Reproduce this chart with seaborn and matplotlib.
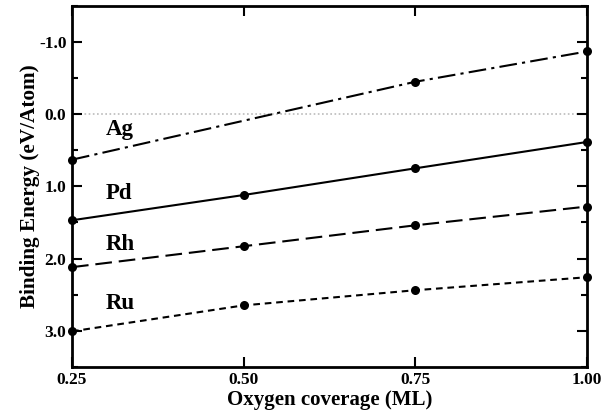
import numpy as np
import pandas as pd
import matplotlib
matplotlib.use("Agg")
import matplotlib.pyplot as plt
import seaborn as sns
from matplotlib.ticker import MultipleLocator

sns.set_style("ticks")
plt.rcParams['font.family'] = ['Liberation Serif', 'DejaVu Serif']
plt.rcParams['font.weight'] = 'bold'
for k in ["text.color", "axes.labelcolor", "xtick.color", "ytick.color", "axes.edgecolor"]:
    plt.rcParams[k] = "black"

# Data
metals = ["Ag", "Pd", "Rh", "Ru"]
ag_x = [0.25, 0.75, 1.00]
ag_y = [0.63, -0.45, -0.87]
pd_x = [0.25, 0.50, 0.75, 1.00]
pd_y = [1.47, 1.12, 0.75, 0.385]
rh_x = [0.25, 0.50, 0.75, 1.00]
rh_y = [2.12, 1.83, 1.54, 1.28]
ru_x = [0.25, 0.50, 0.75, 1.00]
ru_y = [3.01, 2.65, 2.44, 2.26]
x_ticks = [0.25, 0.50, 0.75, 1.00]
x_ticklabels = ["0.25", "0.50", "0.75", "1.00"]
y_ticks = [-1.0, 0.0, 1.0, 2.0, 3.0]
y_ticklabels = ["-1.0", "0.0", "1.0", "2.0", "3.0"]
label_y = [0.21, 1.10, 1.81, 2.62]

frames = []
for m, xs, ys in [("Ag", ag_x, ag_y), ("Pd", pd_x, pd_y), ("Rh", rh_x, rh_y), ("Ru", ru_x, ru_y)]:
    frames.append(pd.DataFrame({"coverage": xs, "energy": ys, "metal": m}))
df = pd.concat(frames, ignore_index=True)

fig = plt.figure(figsize=(6.07, 4.15), dpi=100)
ax = fig.add_axes([0.1186, 0.1164, 0.848, 0.869])

dashes = {"Ag": (8.5, 2.5, 1.5, 2.5), "Pd": "", "Rh": (8, 3.3), "Ru": (3.2, 2.3)}
sns.lineplot(data=df, x="coverage", y="energy", hue="metal", style="metal",
             palette={m: "black" for m in metals}, dashes=dashes,
             markers={m: "o" for m in metals}, markersize=6.5,
             markeredgewidth=0, linewidth=1.5, legend=False, ax=ax,
             sort=False, estimator=None, clip_on=False)

ax.axhline(0.0, color="#bbbbbb", linestyle=(0, (1, 1.5)), linewidth=1.2, zorder=0)

ax.set_xlim(0.25, 1.00)
ax.set_ylim(3.5, -1.5)
ax.set_xticks(x_ticks)
ax.set_xticklabels(x_ticklabels)
ax.set_yticks(y_ticks)
ax.set_yticklabels(y_ticklabels)
ax.yaxis.set_minor_locator(MultipleLocator(0.5))
ax.tick_params(which="both", direction="in", top=True, right=True, width=1.5,
               labelsize=12.5, colors="black")
ax.tick_params(which="major", length=7.5, pad=4)
ax.tick_params(which="minor", length=4)
for lab in ax.get_xticklabels() + ax.get_yticklabels():
    lab.set_fontweight("bold")
for s in ax.spines.values():
    s.set_linewidth(2)
    s.set_color("black")

ax.set_xlabel("Oxygen coverage (ML)", fontsize=15, fontweight="bold", labelpad=1.5)
ax.set_ylabel("Binding Energy (eV/Atom)", fontsize=15.3, fontweight="bold", labelpad=-1)

for name, yv in zip(metals, label_y):
    ax.text(0.2995, yv, name, fontsize=16.5, fontweight="bold", va="center", ha="left")

fig.savefig("out.png", dpi=100)
